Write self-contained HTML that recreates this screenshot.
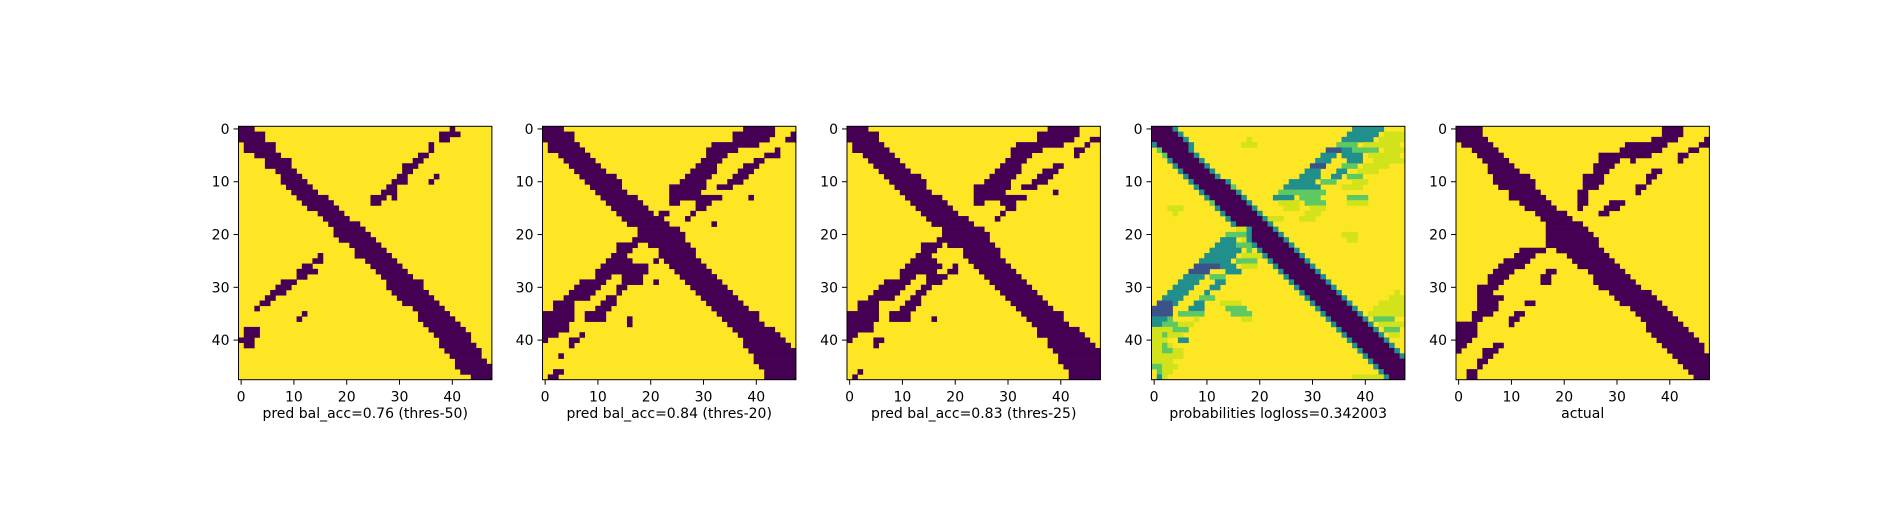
<!DOCTYPE html>
<html><head><meta charset="utf-8"><style>
html,body{margin:0;padding:0;background:#fff;}
svg text{font-family:"DejaVu Sans","Liberation Sans",sans-serif;font-size:14px;fill:#000;}
</style></head><body>
<svg id="fig" width="1900" height="500" viewBox="0 0 1900 500" xmlns="http://www.w3.org/2000/svg">
<rect width="1900" height="500" fill="#fff"/>
</svg>
<script>
const titles = ["pred bal_acc=0.76 (thres-50)","pred bal_acc=0.84 (thres-20)","pred bal_acc=0.83 (thres-25)","probabilities logloss=0.342003","actual"];
const tickVals = [0,10,20,30,40];
const nCells = 48;
const p1Rows = ["0-2 40","0-4 38-41","0-4 38-39","1-6 36","1-6 36","3-7 34-35","5-9 33-34","5-9 31-33","7-10 31-32","8-11 30-31 37","8-12 29-31 36","9-13 28-29","10-14 27-29","11-16 25-27 29","12-17 25-26","13-18","15-19","16-20","17-22","18-23","18-24","19-25","21-26","22-27","22-28 15","24-29 14-15","25-30 12-13","26-31 11-14","27-32 11-12","28-34 8-10","28-34 7-9","29-35 6-8","30-36 5-6","31-37 4-5","33-38 3","34-39 12","34-40 11","35-41","36-42 1-3","37-43 1-3","38-43 0-2","38-44 1-2","39-45","40-45","41-46","41-47","42-47","44-47"];
const p2Rows = ["0-3 38-43","0-5 36-43 47","0-5 36-42 46-47","1-6 32-40","1-7 31-36 44","3-8 31-34 42-44","4-9 30-33 40-41","5-10 29-32 38-40","6-11 28-32 37-39","7-13 27-31 36-38","8-14 26-30 35-37","9-14 24-30 33-35","10-15 24-29","11-17 24-33 39","12-18 24-25 29-31","13-19 29-30","14-20 22-23 28","15-22 27","16-23 32","18-25","18-26","17-26","14-17 20-27","14-16 22-28","13-15 22-28","12-16 21 23-29","11-19 24-30","10-19 25-31","10-12 15-18 26-32","7-11 15-18 21 27-33","6-10 14-15 28-34","5-9 14 29-35","4-8 12-13 30-36","2-5 11-13 31-37","2-5 10-12 32-38","0-5 8-11 33-40","0-5 8-11 16 34-40","0-4 16 35-41","0-4 36-43","0-2 7 37-44","0 5-6 38-45","5 38-46","39-47","3 40-47","40-47","41-47","2-3 42-47","1-2 42-47"];
const p3Rows = ["0-3 38-43","0-5 36-43","0-5 36-42 46-47","1-6 32-40 45","1-7 31-36 43-44","3-8 31-34 43","4-9 30-33","5-10 29-32 39-40","6-11 28-32 37-39","7-13 27-31 36-38","8-14 26-30 35-37","9-14 24-30 33-35","10-15 24-29 39","11-17 24-33","12-18 24-25 29-31","13-19 30-31","14-20 29","15-22 28","16-23","18-25","18-26","17-26","14-17 19-27","14-16 22-28","13-15 22-28","12-16 23-29","11-17 20 24-30","10-16 19-20 25-31","10-12 15-18 26-32","7-11 15-17 27-33","6-10 14-15 28-34","5-9 13-14 29-35","4-8 12-13 30-36","2-5 11-13 31-37","2-5 10-12 32-38","0-5 8-11 33-40","0-5 8-11 16 34-40","0-4 35-41","0-4 36-43","0-1 36-44","0 5-6 38-45","5 38-46","39-47","40-47","40-47","41-47","2 42-47","1 42-47"];
const p4Rows = ["0-3:0 4:2 38-43:2","0-4:0 5:2 37-42:2 44-47:4","0-5:0 6:2 18:4 36-41:2 43-47:4","0:2 1-6:0 7:2 17-19:4 35-38:3 40-46:4","1:3 2-6:0 7:2 33-35:1 36-37:2 38-42:3 44-47:4","2:3 3-7:0 8:2 32-34:2 36-39:2 41-46:4","3:2 4-8:0 9:2 31-33:2 37-39:2 42-47:4","4:2 5-9:0 10:2 30-32:1 36-38:3 40-44:4","5:2 6-10:0 11:2 29-31:2 35-36:2 39-42:4","6:2 7-11:0 12:2 28-31:2 34-35:2 37-39:3","7:2 8-13:0 14:2 26-30:2 32-34:3 38-40:4","8:2 9-14:0 15:3 25-31:2 36-39:4","9:2 10-15:0 16:2 24-32:3","10:2 11-16:0 17:2 23-26:2 28-31:3 37-40:3","11:3 12-17:0 18:2 24-27:4 29-32:3 37-40:4","3-5:4 12:2 13-18:0 19:2 25-27:4 30-32:4","4:4 13:2 14-19:0 20:2 29-31:4","14:2 15-20:0 21:2 22-24:4 28-30:4","15:2 16-21:0 22:2","16-17:4 18:2 19-22:0 23:2","14-17:3 18:2 19-23:0 24:2 36-38:4","13-15:2 17:4 18:2 19-24:0 25:2 37-38:4","12-15:2 16-18:3 19:2 20-25:0 26:2","11-16:2 18:3 20:2 21-26:0 27:2","10-15:2 17-20:4 21:2 22-27:0 28:2","9-14:2 16-19:3 22:2 23-28:0 29:2","8-12:1 13-15:2 17-19:4 23:2 24-29:0 30:2","7-10:1 14-16:2 24:2 25-30:0 31:2","6-9:2 11-13:3 25:2 26-31:0 32:2","5-8:2 12-13:2 26:2 27-32:0 33:2","4-7:2 11-12:2 27:2 28-33:0 34:2","3-6:2 10:2 28:2 29-34:0 35:2 46:4","2-5:2 9-11:3 29:2 30-35:0 36:2 45-47:4","1-3:1 4:2 8-9:2 13-16:4 30:2 31-36:0 37:2 43-47:4","0-3:1 7-9:2 14-17:3 31:2 32-37:0 38:2 42-47:4","0-3:1 5-9:3 15-18:3 32:2 33-38:0 39:2 41-47:4","0-2:2 3:3 8:4 17-18:4 33:2 34-39:0 40:2 42-45:3","0-1:2 2-4:3 5-7:4 34:2 35-40:0 41:2 43-47:4","0-3:4 4-6:3 35:2 36-41:0 42:2 44-46:3","0-1:4 2:3 3-5:4 36:2 37-42:0 43:2 45-46:4","0-2:4 5-6:2 37:2 38-43:0 44:2","0-1:4 2:3 3:4 38:2 39-44:0 45:2","0-1:4 2-3:3 4-5:4 39:2 40-45:0 46:2","0-5:4 40:2 41-46:0 47:2","0-3:4 41:2 42-47:0","0-1:3 2-4:4 42:2 43-47:0","1:3 2-3:4 43:2 44-47:0","1:2 2:4 38-43:4 44:2 45-47:0"];
const p5Rows = ["0-4 39-42","0-4 39-42","0-5 37-41 47","1-6 32-39 46-47","3-7 31-38 44-45","4-8 27-36 42-43","5-9 27-30 33 42","6-10 26-29","6-11 26-28 37-38","7-13 24-27 36-37","7-14 24-27 36","8-14 24-26 34-35","10-15 23-24 34","10-16 23-24","12-17 23-24 29-31","13-18 23 28-30","15-20 27-28","16-21","17-23","17-24","17-25","17-26","17-26","12-16 19-27","11-14 21-28","9-13 22-29","8-12 23-30","7-10 17-18 25-31","6-9 16-17 26-32","6-8 16-17 26-33","4-7 27-34","4-6 29-36","4-8 30-37","4-7 13-14 31-38","4-7 33-39","3-6 11-12 34-40","3-4 10-11 35-41","0-3 10 36-42","0-3 36-43","0-3 37-44","0-2 38-45","0-1 7-8 39-46","0 5-7 40-46","5-6 41-47","4-5 42-47","4 43-47","2-3 44-47","2-3 45-47"];
const allRows = [p1Rows,p2Rows,p3Rows,p4Rows,p5Rows];
const palette = ["#440154","#3b528b","#21908d","#5ec962","#d2e21b"];
const bgYellow = "#fde725";
const panelLeft = [238.5,542.5,847,1151.5,1456];
const panelTop = 126.3, panelSize = 253.4;
const NS = "http://www.w3.org/2000/svg";
const svg = document.getElementById('fig');
function mk(tag, attrs, parent){const e=document.createElementNS(NS,tag);for(const k in attrs)e.setAttribute(k,attrs[k]);(parent||svg).appendChild(e);return e;}
allRows.forEach((rows,p)=>{
  const L = panelLeft[p], cell = panelSize/nCells;
  const xs = c => L + c*cell;
  const ys = r => panelTop + r*cell;
  const g = mk('g',{});
  
  
  const bg = mk('rect',{x:L,y:panelTop,width:panelSize,height:panelSize,fill:bgYellow},g);
  
  
  rows.forEach((row,r)=>{
    row.trim().split(/\s+/).filter(s=>s).forEach(run=>{
      const parts = run.split(':');
      const v = parts.length>1 ? +parts[1] : 0;
      const ab = parts[0].split('-');
      const a = +ab[0], b = ab.length>1 ? +ab[1] : a;
      const rc = mk('rect',{x:xs(a),y:ys(r),width:(b-a+1)*cell+0.3,height:cell+0.3,fill:palette[v]},g);
      
      
    });
  });
  const fr = mk('rect',{x:L,y:panelTop,width:panelSize,height:panelSize,fill:'none',stroke:'#000','stroke-width':1},g);
  
  
  tickVals.forEach(t=>{
    const px = xs(t+0.5), py = ys(t+0.5);
    const xt = mk('line',{x1:px,x2:px,y1:panelTop+panelSize,y2:panelTop+panelSize+5,stroke:'#000','stroke-width':1},g);
    
    
    const xl = mk('text',{x:px,y:panelTop+panelSize+22,'text-anchor':'middle'},g);
    xl.textContent = t;
    
    
    const yt = mk('line',{x1:L-5,x2:L,y1:py,y2:py,stroke:'#000','stroke-width':1},g);
    
    
    const yl = mk('text',{x:L-9,y:py+5,'text-anchor':'end'},g);
    yl.textContent = t;
    
    
  });
  const tt = mk('text',{x:L+panelSize/2,y:418,'text-anchor':'middle'},g);
  tt.textContent = titles[p];
  
  
});
</script>
</body></html>
